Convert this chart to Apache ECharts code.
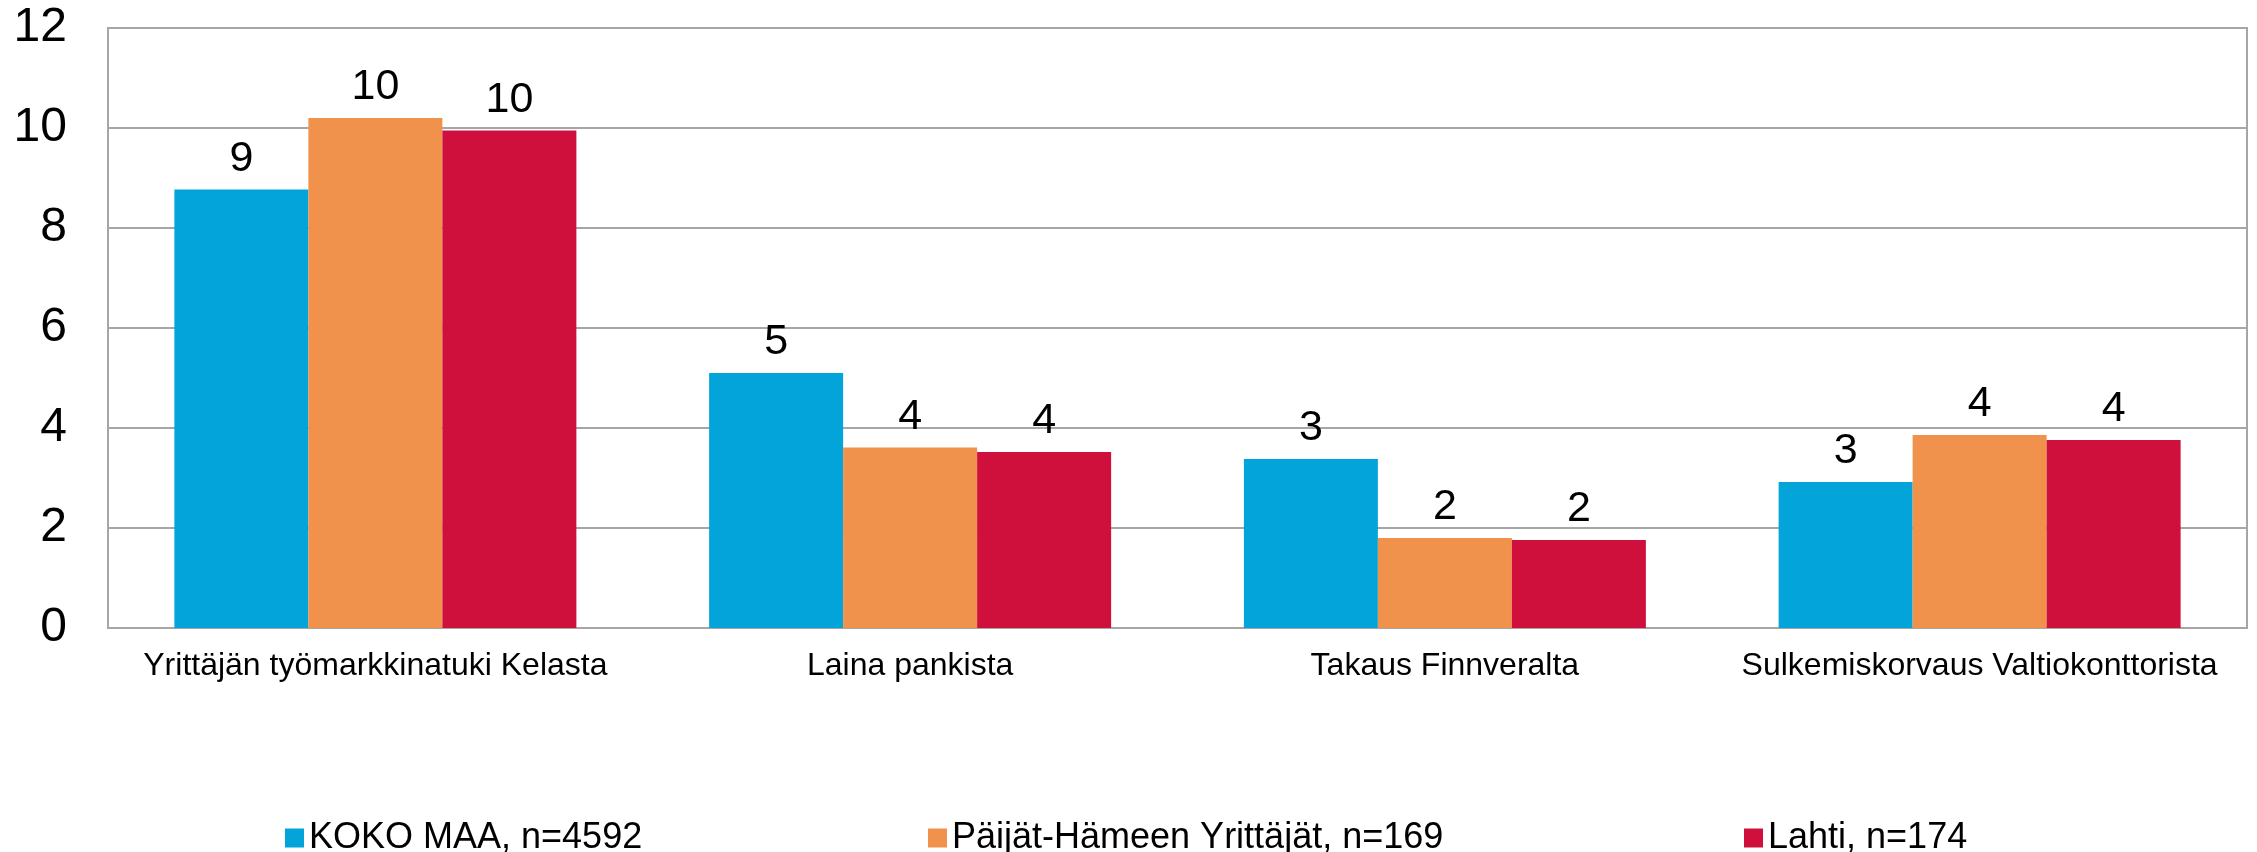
<!DOCTYPE html>
<html>
<head>
<meta charset="utf-8">
<script src="https://cdn.jsdelivr.net/npm/echarts@6/dist/echarts.min.js"></script>
<style>
html,body{margin:0;padding:0;background:#fff;}
#c{width:2257px;height:852px;}
</style>
</head>
<body>
<div id="c"></div>
<script>
const categories = ["Yrittäjän työmarkkinatuki Kelasta", "Laina pankista", "Takaus Finnveralta", "Sulkemiskorvaus Valtiokonttorista"];
const seriesNames = ["KOKO MAA, n=4592", "Päijät-Hämeen Yrittäjät, n=169", "Lahti, n=174"];
const kokoMaa = [8.77, 5.10, 3.38, 2.92];
const paijatHame = [10.2, 3.61, 1.80, 3.86];
const lahti = [9.95, 3.52, 1.76, 3.76];
const yTicks = [0, 2, 4, 6, 8, 10, 12];

const colors = ["#02A4DA", "#F0924B", "#CF103D"];
const font = "'Liberation Sans', Arial, sans-serif";
const chart = echarts.init(document.getElementById('c'));
const values = [kokoMaa, paijatHame, lahti];
const legendLefts = [280, 923, 1739];

chart.setOption({
  animation: false,
  grid: {left: 108, top: 28, width: 2139, height: 600, show: true, borderColor: '#A6A6A6', borderWidth: 2},
  legend: seriesNames.map((n, i) => ({
    data: [n], left: legendLefts[i], top: 815, itemWidth: 19, itemHeight: 19, icon: 'rect',
    textStyle: {fontSize: 36, fontFamily: font, color: '#000'}, itemGap: 0
  })),
  xAxis: {
    type: 'category', data: categories,
    axisLine: {lineStyle: {color: '#A6A6A6', width: 2}},
    axisTick: {show: false},
    axisLabel: {fontSize: 32, fontFamily: font, color: '#000', margin: 22, interval: 0}
  },
  yAxis: {
    type: 'value', min: yTicks[0], max: yTicks[yTicks.length - 1], interval: 2,
    axisLine: {show: true, lineStyle: {color: '#A6A6A6', width: 2}},
    axisTick: {show: false},
    splitLine: {lineStyle: {color: '#A6A6A6', width: 2}},
    axisLabel: {fontSize: 48, fontFamily: font, color: '#000', margin: 41}
  },
  series: seriesNames.map((n, i) => ({
    name: n, type: 'bar', data: values[i], barWidth: 134, barGap: '0%',
    itemStyle: {color: colors[i]},
    label: {show: true, position: 'top', distance: 9, fontSize: 43, fontFamily: font, color: '#000',
      formatter: p => Math.round(p.value)}
  }))
});
</script>
</body>
</html>
